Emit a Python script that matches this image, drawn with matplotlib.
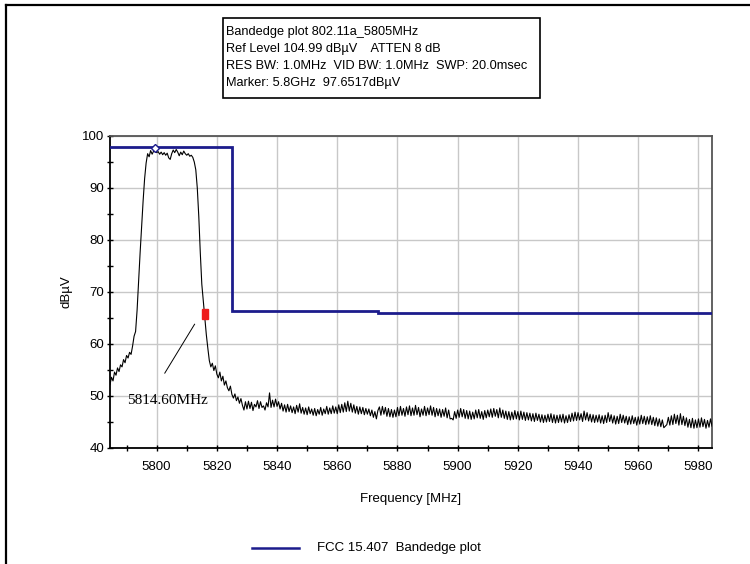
"""Bandedge plot 802.11a 5805 MHz: measured trace vs FCC 15.407 limit."""
import numpy as np
import matplotlib
matplotlib.use("Agg")
import matplotlib.pyplot as plt
from matplotlib.lines import Line2D
from matplotlib.patches import Rectangle
from matplotlib.ticker import MultipleLocator

plt.rcParams["font.family"] = ["Liberation Sans", "DejaVu Sans"]

# ---- data ---------------------------------------------------------------
F_START, F_STOP = 5784.5, 5984.5          # sweep span [MHz], 0.5 MHz bins
trace_db = [
    52.2, 53.6, 52.9, 54.6, 54.0, 55.4, 54.7, 56.0, 55.6, 57.0,
    56.4, 57.8, 57.3, 58.4, 58.0, 59.6, 61.5, 62.4, 66.5, 72.0,
    77.5, 82.5, 87.5, 91.8, 94.8, 96.6, 96.0, 97.2, 96.5, 97.1,
    97.6, 96.8, 97.0, 96.5, 96.9, 96.4, 96.8, 96.3, 96.7, 95.8,
    95.5, 96.6, 97.3, 96.8, 97.4, 96.9, 96.2, 96.9, 96.4, 97.1,
    96.6, 96.3, 96.6, 96.1, 96.3, 95.9, 95.0, 93.5, 90.0, 84.5,
    77.5, 71.5, 68.2, 65.0, 61.8, 59.2, 56.8, 55.6, 56.3, 54.9,
    55.8, 54.2, 53.5, 54.6, 52.9, 53.8, 52.1, 52.9, 51.6, 51.0,
    51.9, 50.3, 49.6, 50.4, 49.1, 49.8, 48.6, 49.5,
    48.2, 47.3, 48.9, 47.5, 49.0, 47.6, 48.8, 47.2, 48.4, 47.9,
    49.1, 47.6, 48.9, 47.8, 48.1, 47.3, 48.7, 47.9, 50.6, 47.8,
    49.2, 47.9, 49.4, 48.0, 48.9, 47.5, 48.6, 47.1, 48.3, 46.9,
    48.4, 47.0, 48.1, 46.8, 47.9, 46.6, 48.2, 46.9, 48.5, 46.7,
    47.8, 46.5, 47.7, 46.4, 47.9, 46.6, 47.5, 46.3, 47.6, 46.2,
    47.4, 46.5, 47.8, 46.3, 47.5, 46.6, 48.0, 46.5, 47.7, 46.6,
    48.1, 46.7, 47.9, 46.6, 48.3, 46.8, 48.4, 46.9, 48.7, 47.0,
    49.0, 47.1, 48.6, 46.9, 48.3, 46.7, 48.0, 46.5, 47.9, 46.6,
    47.8, 46.4, 47.6, 46.5, 47.5, 46.2, 47.3, 45.9, 47.0, 45.6,
    47.2, 47.9, 46.3, 48.0, 46.5, 47.8, 46.1, 47.6, 46.0, 47.4,
    45.9, 47.3, 46.0, 47.8, 46.2, 48.0, 46.3, 47.6, 46.1, 47.9,
    46.4, 48.1, 46.2, 47.7, 46.3, 48.2, 46.4, 47.8, 46.0, 47.5,
    46.3, 48.0, 46.2, 47.7, 46.4, 48.1, 46.3, 47.8, 46.0, 47.6,
    46.2, 47.5, 45.9, 47.4, 46.1, 47.7, 45.8, 47.3, 45.6, 45.7,
    45.4, 47.0, 45.7, 47.3, 45.9, 47.6, 46.0, 47.4, 45.7, 47.2,
    45.6, 47.1, 45.5, 46.9, 45.6, 47.3, 45.8, 47.4, 45.7, 47.0,
    45.5, 47.2, 45.8, 47.3, 46.0, 47.5, 45.9, 47.6, 46.1, 47.4,
    45.8, 47.7, 45.9, 47.3, 45.7, 47.1, 45.5, 47.0, 45.4, 46.9,
    45.5, 47.2, 45.6, 47.0, 45.4, 47.1, 45.5, 46.9, 45.3, 46.8,
    45.4, 46.7, 45.2, 46.6, 45.1, 46.7, 45.3, 46.5, 45.0, 46.4,
    44.9, 46.3, 45.0, 46.5, 45.1, 46.6, 44.9, 46.4, 44.8, 46.3,
    44.9, 46.4, 45.0, 46.5, 44.8, 46.2, 44.9, 46.4, 45.1, 46.7,
    45.2, 46.9, 45.3, 46.8, 45.4, 46.6, 45.1, 47.1, 45.4, 46.8,
    45.2, 46.5, 45.0, 46.4, 44.9, 46.3, 45.0, 46.4, 44.8, 46.2,
    44.7, 46.3, 44.9, 46.8, 45.1, 46.4, 44.8, 46.2, 44.6, 46.1,
    44.7, 46.5, 44.9, 46.3, 44.8, 46.1, 44.5, 46.0, 44.6, 46.2,
    44.7, 45.9, 44.4, 46.0, 44.6, 46.3, 44.7, 46.1, 44.5, 46.0,
    44.6, 46.2, 44.5, 45.9, 44.3, 45.8, 44.2, 45.6, 44.1, 45.4,
    43.9, 44.2, 44.5, 45.9, 44.4, 46.2, 44.5, 46.5, 44.7, 46.3,
    44.4, 46.6, 44.5, 46.1, 44.3, 45.8, 44.0, 45.5, 43.9, 45.7,
    43.8, 45.4, 43.9, 45.6, 44.0, 45.8, 44.1, 45.5, 43.8, 45.3,
    44.0, 45.6, 44.2,
]

# FCC 15.407 limit line (step)
limit_f = [5784.5, 5825.0, 5825.0, 5873.5, 5873.5, 5984.5]
limit_db = [97.9, 97.9, 66.3, 66.3, 66.0, 66.0]

peak_f, peak_db = 5799.6, 97.65          # diamond marker
edge_f, edge_db = 5816.0, 65.8           # red band-edge marker
edge_label = "5814.60MHz"

info_lines = [
    "Bandedge plot 802.11a_5805MHz",
    "Ref Level 104.99 dB\u00b5V    ATTEN 8 dB",
    "RES BW: 1.0MHz  VID BW: 1.0MHz  SWP: 20.0msec",
    "Marker: 5.8GHz  97.6517dB\u00b5V",
]
legend_label = "FCC 15.407  Bandedge plot"

NAVY = "#1c1c8c"
W, H = 750, 564

# ---- figure ---------------------------------------------------------------
fig = plt.figure(figsize=(W / 100, H / 100), dpi=100)
ax = fig.add_axes([110 / W, 1 - 448 / H, 602 / W, 312 / H])

freq = np.linspace(F_START, F_STOP, len(trace_db))
ax.plot(freq, trace_db, color="black", lw=0.8, zorder=3)
ax.plot(limit_f, limit_db, color=NAVY, lw=2.0, zorder=4,
        solid_joinstyle="miter")
ax.plot([peak_f], [peak_db], marker="D", ms=4.5, mfc="white", mec=NAVY,
        mew=1.0, zorder=5)
ax.add_patch(Rectangle((edge_f - 1.0, edge_db - 1.0), 2.0, 2.0,
                       color="#ee1c1c", zorder=6))
ax.plot([5802.7, 5812.6], [54.4, 63.8], color="black", lw=0.7, zorder=5)
ax.text(5790.3, 49.2, edge_label, family=["Liberation Serif", "DejaVu Serif"],
        fontsize=11, ha="left", va="center", zorder=6)

ax.set_xlim(F_START, F_STOP)
ax.set_ylim(40, 100)
ax.xaxis.set_major_locator(MultipleLocator(20))
ax.xaxis.set_minor_locator(MultipleLocator(10))
ax.yaxis.set_major_locator(MultipleLocator(10))
ax.yaxis.set_minor_locator(MultipleLocator(5))
ax.grid(True, which="major", color="#c8c8c8", lw=1.0, zorder=0)
ax.tick_params(which="both", direction="inout", length=5, width=1,
               labelsize=9.5)
ax.tick_params(axis="x", which="major", pad=7)
ax.tick_params(axis="y", which="major", pad=1.5)
for s in ("left", "bottom"):
    ax.spines[s].set_linewidth(1.3)
for s in ("top", "right"):
    ax.spines[s].set_color("#555555")
    ax.spines[s].set_linewidth(1.3)

ax.set_ylabel("dB\u00b5V", fontsize=9.5)
ax.yaxis.set_label_coords(-0.063, 0.5)
ax.set_xlabel("Frequency [MHz]", fontsize=9.5)
ax.xaxis.set_label_coords(0.5, -0.145)

# info box at the top
fig.patches.append(Rectangle((223 / W, 1 - 98 / H), 317 / W, 80 / H,
                             transform=fig.transFigure, fill=False,
                             ec="black", lw=1.2))
for k, line in enumerate(info_lines):
    fig.text(226 / W, 1 - (32 + 17 * k) / H, line, fontsize=9.2,
             ha="left", va="center")

# legend below the axes
fig.add_artist(Line2D([252 / W, 299 / W], [1 - 548 / H, 1 - 548 / H],
                      color=NAVY, lw=1.8, transform=fig.transFigure))
fig.text(317 / W, 1 - 548 / H, legend_label, fontsize=9.5, ha="left",
         va="center")

# outer frame (top + left edge of the screenshot)
fig.add_artist(Line2D([6 / W, 1.0], [1 - 5 / H, 1 - 5 / H], color="black",
                      lw=1.6, transform=fig.transFigure))
fig.add_artist(Line2D([6 / W, 6 / W], [0.0, 1 - 5 / H], color="black",
                      lw=1.6, transform=fig.transFigure))

fig.savefig("out.png", dpi=100)
